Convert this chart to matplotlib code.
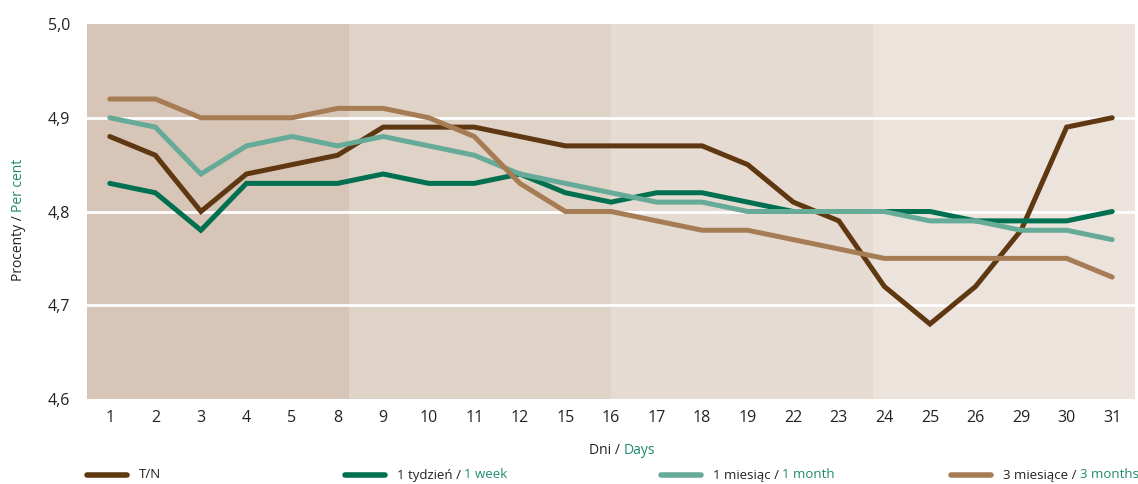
import matplotlib
matplotlib.use("Agg")
import matplotlib.pyplot as plt

plt.rcParams["font.family"] = ["Open Sans", "DejaVu Sans"]

days = ["1", "2", "3", "4", "5", "8", "9", "10", "11", "12", "15", "16",
        "17", "18", "19", "22", "23", "24", "25", "26", "29", "30", "31"]
tn = [4.88, 4.86, 4.80, 4.84, 4.85, 4.86, 4.89, 4.89, 4.89, 4.88, 4.87, 4.87,
      4.87, 4.87, 4.85, 4.81, 4.79, 4.72, 4.68, 4.72, 4.78, 4.89, 4.90]
week1 = [4.83, 4.82, 4.78, 4.83, 4.83, 4.83, 4.84, 4.83, 4.83, 4.84, 4.82, 4.81,
         4.82, 4.82, 4.81, 4.80, 4.80, 4.80, 4.80, 4.79, 4.79, 4.79, 4.80]
month1 = [4.90, 4.89, 4.84, 4.87, 4.88, 4.87, 4.88, 4.87, 4.86, 4.84, 4.83, 4.82,
          4.81, 4.81, 4.80, 4.80, 4.80, 4.80, 4.79, 4.79, 4.78, 4.78, 4.77]
month3 = [4.92, 4.92, 4.90, 4.90, 4.90, 4.91, 4.91, 4.90, 4.88, 4.83, 4.80, 4.80,
          4.79, 4.78, 4.78, 4.77, 4.76, 4.75, 4.75, 4.75, 4.75, 4.75, 4.73]

series = [
    (tn, "#5f3812", "T/N", ""),
    (week1, "#007050", "1 tydzień / ", "1 week"),
    (month1, "#66aa98", "1 miesiąc / ", "1 month"),
    (month3, "#a67c55", "3 miesiące / ", "3 months"),
]
band_colors = ["#d7c6b8", "#dfd3c8", "#e5dbd2", "#ebe3dc"]
TEAL = "#1f8a6e"
TXT = "#222222"

fig = plt.figure(figsize=(11.38, 4.84), dpi=100)
ax = fig.add_axes([87 / 1138, 85 / 484, 1048 / 1138, 375 / 484])

x = list(range(len(days)))
n = len(days)
w = n / 4
for i, c in enumerate(band_colors):
    ax.axvspan(-0.5 + i * w, -0.5 + (i + 1) * w, color=c, lw=0, zorder=0)

for yv in (4.7, 4.8, 4.9):
    ax.axhline(yv, color="white", lw=2, zorder=1)

for vals, col, _, _ in series:
    ax.plot(x, vals, color=col, lw=3.6, solid_capstyle="round",
            solid_joinstyle="miter", zorder=3)

ax.set_xlim(-0.5, n - 0.5)
ax.set_ylim(4.6, 5.0)
ax.set_xticks(x)
ax.set_xticklabels(days)
ax.set_yticks([4.6, 4.7, 4.8, 4.9, 5.0])
ax.set_yticklabels(["4,6", "4,7", "4,8", "4,9", "5,0"])
ax.tick_params(length=0, labelsize=11.5, colors=TXT, pad=8)
ax.tick_params(axis="y", pad=12)
for s in ax.spines.values():
    s.set_visible(False)

# y label in two colours
yl = fig.text(18 / 1138, 0.562, "Procenty / ", rotation=90, ha="center",
              va="top", fontsize=10, color=TXT)
fig.canvas.draw()
ax.annotate("Per cent", xy=(0, 1), xycoords=yl, ha="left", va="bottom",
            rotation=90, fontsize=10, color=TEAL)

# x label in two colours
fig.text(0.548, (484 - 450) / 484, "Dni / ", ha="right", va="center",
         fontsize=10, color=TXT)
fig.text(0.548, (484 - 450) / 484, "Days", ha="left", va="center",
         fontsize=10, color=TEAL)

# legend row
leg_x = [87, 345, 661, 951]
ly = (484 - 475) / 484
for (vals, col, pl, en), lx in zip(series, leg_x):
    fig.add_artist(plt.Line2D([lx / 1138, (lx + 40) / 1138], [ly, ly],
                              color=col, lw=4, solid_capstyle="round",
                              transform=fig.transFigure))
    t = fig.text((lx + 52) / 1138, ly, pl, ha="left", va="center",
                 fontsize=9.5, color=TXT)
    if en:
        fig.canvas.draw()
        fig.text(t.get_window_extent().x1 / 1138, ly, en, ha="left",
                 va="center", fontsize=9.5, color=TEAL)

fig.savefig("out.png", dpi=100)
